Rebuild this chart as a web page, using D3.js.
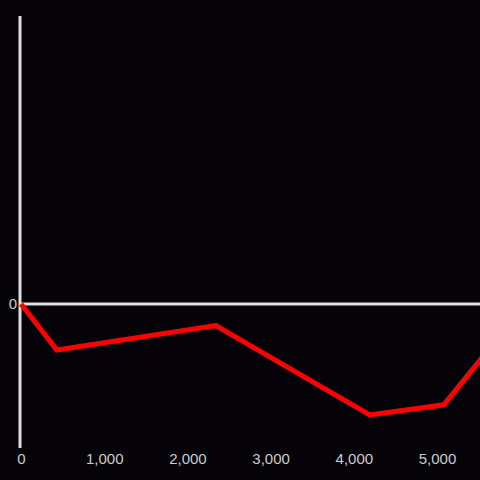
<!DOCTYPE html>
<html>
<head>
<meta charset="utf-8">
<script src="https://cdn.jsdelivr.net/npm/d3@7"></script>
<style>
  html, body { margin: 0; padding: 0; background: #050307; }
  .tick text { font-family: "Liberation Sans", Arial, sans-serif; }
</style>
</head>
<body>
<script>
'use strict';

var width = 480;
var height = 480;

// series values
var xValues = [0, 430, 2340, 4190, 5080, 5800];
var yValues = [0, -0.32, -0.15, -0.77, -0.70, -0.19];
var xTicks = [0, 1000, 2000, 3000, 4000, 5000];
var yTicks = [0];

var data = xValues.map(function (x, i) { return { x: x, y: yValues[i] }; });

var x = d3.scaleLinear().domain([0, 5000]).range([21, 437]);
var y = d3.scaleLinear().domain([-1, 2]).range([448, 16]);

var svg = d3.select('body').append('svg').attr('width', width).attr('height', height)
  .style('display', 'block').style('background', '#050307');

svg.append('clipPath').attr('id', 'clip').append('rect')
  .attr('x', 0).attr('y', 0).attr('width', width).attr('height', height);

// y axis line
svg.append('line')
  .attr('x1', 20).attr('x2', 20).attr('y1', y(2)).attr('y2', y(-1))
  .attr('stroke', '#dedede').attr('stroke-width', 3);

// zero line
svg.append('line')
  .attr('x1', 20).attr('x2', width).attr('y1', y(0)).attr('y2', y(0))
  .attr('stroke', '#dedede').attr('stroke-width', 3);

var xAxis = svg.append('g').attr('transform', 'translate(0,' + 453 + ')')
  .call(d3.axisBottom(x).tickValues(xTicks).tickFormat(d3.format(',')).tickSize(0).tickPadding(0));
xAxis.select('.domain').remove();
xAxis.selectAll('text').attr('fill', '#cccccc').attr('font-size', 15).attr('dy', '0.71em');

var yAxis = svg.append('g').attr('transform', 'translate(17,0)')
  .call(d3.axisLeft(y).tickValues(yTicks).tickFormat(d3.format('d')).tickSize(0).tickPadding(0));
yAxis.select('.domain').remove();
yAxis.selectAll('text').attr('fill', '#cccccc').attr('font-size', 15);

var line = d3.line().x(function (d) { return x(d.x); }).y(function (d) { return y(d.y); });

svg.append('path').datum(data)
  .attr('clip-path', 'url(#clip)')
  .attr('d', line)
  .attr('fill', 'none')
  .attr('stroke', '#ff0000')
  .attr('stroke-width', 5)
  .attr('stroke-linejoin', 'miter');
</script>
</body>
</html>
